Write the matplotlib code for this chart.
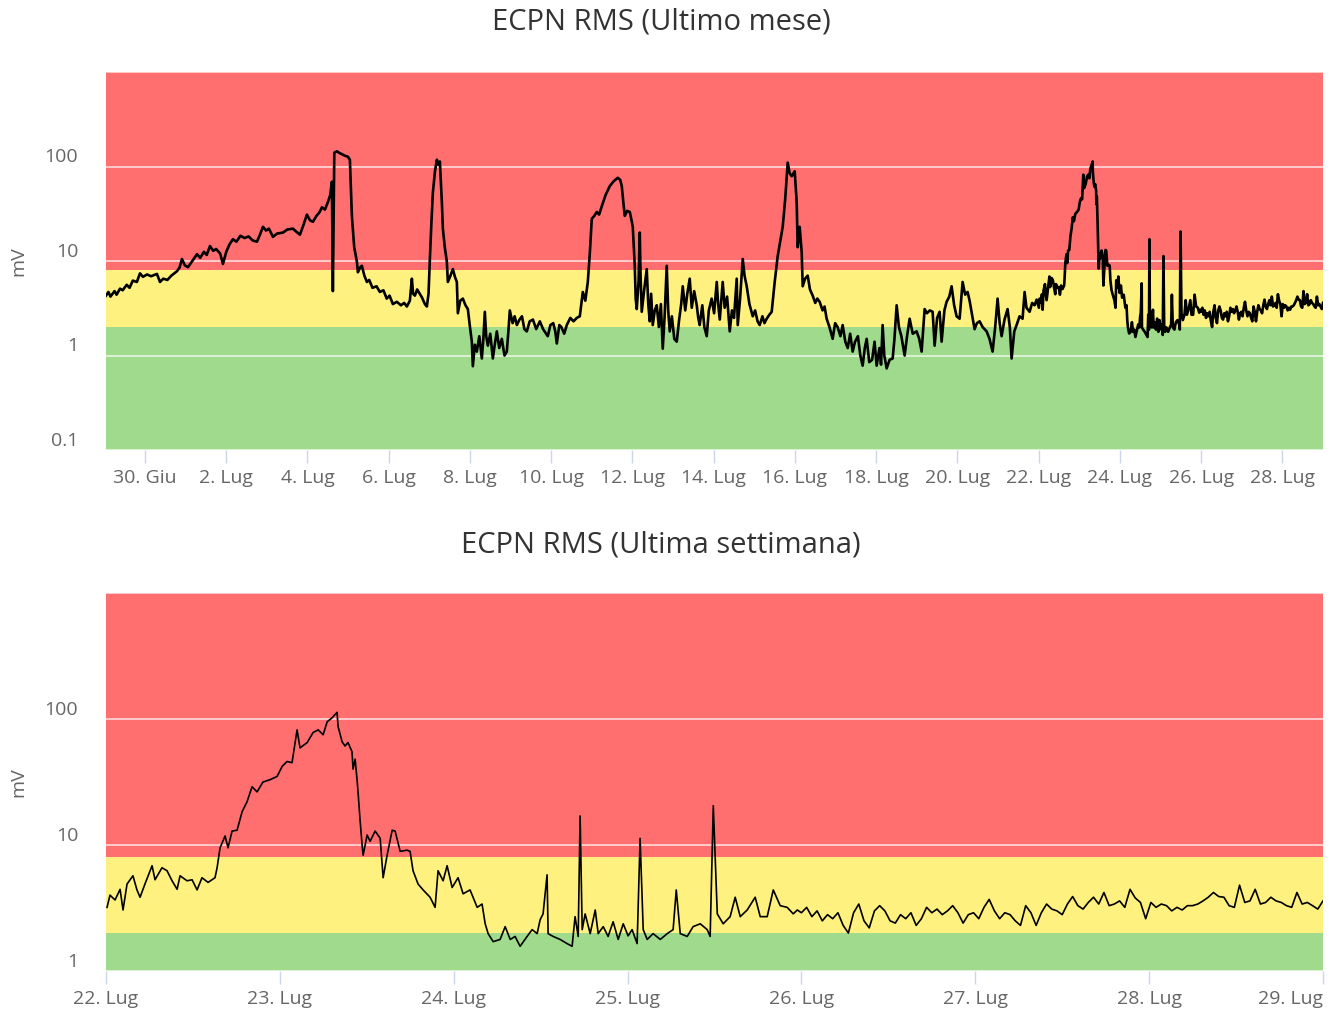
import matplotlib
matplotlib.use("Agg")
import matplotlib.pyplot as plt
from matplotlib.transforms import ScaledTranslation
import numpy as np

# ---------------- DATA ----------------
# time in "day of July" (0 = 30 Giu, 1 = 1 Lug, ...), values in mV
month_days = [
    -0.96, -0.9, -0.85, -0.75, -0.7, -0.615, -0.55, -0.45, -0.38, -0.3,
    -0.2, -0.123, -0.05, 0.05, 0.15, 0.295, 0.369, 0.45, 0.55, 0.65,
    0.787, 0.85, 0.91, 0.98, 1.058, 1.15, 1.28, 1.36, 1.45, 1.52,
    1.599, 1.68, 1.75, 1.85, 1.919, 2.0, 2.08, 2.165, 2.25, 2.35,
    2.45, 2.55, 2.65, 2.756, 2.83, 2.904, 2.98, 3.05, 3.15, 3.25,
    3.4, 3.5, 3.642, 3.72, 3.814, 3.9, 3.986, 4.06, 4.134, 4.22,
    4.3, 4.355, 4.43, 4.503, 4.56, 4.601, 4.625, 4.66, 4.724, 4.8,
    4.85, 4.92, 4.995, 5.044, 5.093, 5.15, 5.217, 5.241, 5.3, 5.339,
    5.4, 5.463, 5.52, 5.6, 5.7, 5.782, 5.87, 5.95, 6.02, 6.102,
    6.2, 6.3, 6.38, 6.447, 6.52, 6.57, 6.6, 6.644, 6.7, 6.75,
    6.82, 6.89, 6.939, 6.98, 7.013, 7.05, 7.087, 7.14, 7.185, 7.22,
    7.259, 7.308, 7.333, 7.38, 7.431, 7.456, 7.52, 7.579, 7.63, 7.677,
    7.702, 7.76, 7.825, 7.89, 7.948, 8.0, 8.046, 8.071, 8.12, 8.169,
    8.23, 8.292, 8.33, 8.366, 8.4, 8.44, 8.5, 8.563, 8.61, 8.661,
    8.72, 8.784, 8.85, 8.907, 8.95, 8.981, 9.05, 9.1, 9.154, 9.22,
    9.28, 9.34, 9.4, 9.47, 9.55, 9.63, 9.72, 9.8, 9.916, 9.98,
    10.05, 10.1, 10.138, 10.2, 10.25, 10.32, 10.384, 10.47, 10.55, 10.63,
    10.704, 10.778, 10.84, 10.901, 10.95, 10.999, 11.06, 11.122, 11.18, 11.245,
    11.34, 11.442, 11.54, 11.639, 11.7, 11.737, 11.78, 11.811, 11.87, 11.934,
    11.97, 12.008, 12.03, 12.057, 12.08, 12.106, 12.15, 12.18, 12.2, 12.229,
    12.29, 12.352, 12.39, 12.426, 12.46, 12.5, 12.55, 12.598, 12.65, 12.7,
    12.746, 12.79, 12.844, 12.88, 12.918, 12.97, 13.03, 13.091, 13.15, 13.2,
    13.238, 13.3, 13.35, 13.41, 13.46, 13.52, 13.583, 13.62, 13.656, 13.72,
    13.77, 13.829, 13.88, 13.95, 14.01, 14.075, 14.11, 14.15, 14.222, 14.27,
    14.33, 14.395, 14.45, 14.5, 14.567, 14.592, 14.65, 14.715, 14.76, 14.813,
    14.88, 14.961, 15.02, 15.08, 15.133, 15.2, 15.25, 15.305, 15.37, 15.428,
    15.502, 15.576, 15.699, 15.76, 15.822, 15.87, 15.92, 15.994, 16.043, 16.068,
    16.117, 16.166, 16.191, 16.25, 16.314, 16.37, 16.437, 16.5, 16.55, 16.609,
    16.68, 16.73, 16.781, 16.85, 16.929, 16.99, 17.05, 17.12, 17.175, 17.24,
    17.3, 17.36, 17.421, 17.48, 17.55, 17.61, 17.667, 17.72, 17.766, 17.83,
    17.9, 17.96, 18.012, 18.08, 18.12, 18.159, 18.2, 18.258, 18.33, 18.406,
    18.45, 18.504, 18.56, 18.62, 18.701, 18.76, 18.824, 18.9, 18.996, 19.06,
    19.119, 19.193, 19.25, 19.32, 19.39, 19.439, 19.5, 19.562, 19.611, 19.68,
    19.734, 19.8, 19.857, 19.92, 19.98, 20.054, 20.128, 20.19, 20.251, 20.3,
    20.349, 20.423, 20.48, 20.546, 20.62, 20.719, 20.79, 20.866, 20.93, 20.989,
    21.04, 21.088, 21.16, 21.235, 21.29, 21.334, 21.4, 21.457, 21.53, 21.604,
    21.654, 21.7, 21.777, 21.84, 21.9, 21.95,
]
month_vals = [
    4.3, 4.7, 4.2, 4.8, 4.4, 5.1, 4.9, 5.6, 5.2, 6.2,
    6.0, 7.4, 6.8, 7.2, 6.9, 7.3, 6.0, 6.5, 6.3, 7.0,
    7.8, 8.5, 10.5, 9.0, 8.6, 9.8, 11.8, 10.8, 12.5, 11.6,
    14.4, 12.8, 13.4, 12.0, 9.3, 12.5, 15.0, 17, 16.0, 18.5,
    17.5, 18.2, 16.5, 16, 19, 23, 21, 22, 18, 19.5,
    20, 21.5, 22, 20.5, 19, 24, 31, 27, 26, 30,
    33, 37, 35, 42, 50, 69, 4.8, 140, 145, 138,
    135, 130, 127, 118, 30, 14, 9.8, 7.6, 8.6, 8.9,
    7.0, 6.0, 6.3, 5.2, 5.4, 4.7, 4.9, 4.0, 4.3, 3.5,
    3.7, 3.4, 3.6, 3.3, 3.8, 6.5, 4.5, 4.3, 5.0, 4.6,
    4.1, 3.5, 3.3, 4.5, 10.5, 25, 53, 90, 118, 105,
    113, 42, 22, 14, 9.8, 6.0, 7.0, 8.2, 6.8, 6.0,
    2.8, 3.8, 4.0, 3.4, 3.1, 2.0, 1.4, 0.77, 1.3, 1.1,
    1.6, 0.93, 1.5, 2.9, 1.6, 1.27, 1.7, 0.93, 1.3, 1.8,
    1.2, 1.5, 1.0, 1.1, 1.9, 3.0, 2.2, 2.6, 2.1, 2.4,
    2.6, 1.9, 1.8, 2.3, 2.4, 1.9, 2.3, 1.9, 1.6, 2.1,
    2.2, 1.8, 1.34, 2.1, 2.0, 1.7, 2.1, 2.5, 2.3, 2.5,
    2.6, 4.7, 3.8, 6.0, 12, 28, 30, 33, 31, 38,
    50, 62, 70, 76, 72, 62, 40, 30, 34, 33,
    28, 23, 15, 8.9, 4.0, 3.1, 6, 20, 7, 2.9,
    5.0, 8.2, 3.5, 2.3, 4.5, 2.1, 3.0, 3.4, 2.0, 3.5,
    1.18, 2.5, 8.9, 3.0, 1.8, 2.6, 1.5, 1.4, 2.4, 3.5,
    5.4, 3.0, 4.5, 6.5, 3.2, 4.8, 3.4, 2.5, 2.1, 3.4,
    2.0, 1.6, 3.0, 4.0, 2.8, 6.0, 3.5, 2.4, 6.0, 3.2,
    4.2, 1.8, 3.0, 2.5, 6.5, 2.1, 4.0, 10.5, 7.0, 5.4,
    3.5, 2.6, 3.0, 2.3, 2.1, 2.6, 2.2, 2.45, 2.7, 2.9,
    6, 11.3, 23, 45, 110, 85, 79, 89, 42, 14,
    23, 12.4, 5.4, 6.5, 7, 5.0, 4.3, 3.6, 4.0, 3.7,
    3.0, 3.3, 2.45, 2.0, 1.5, 2.2, 2.0, 1.6, 2.1, 1.4,
    1.2, 1.7, 1.1, 1.4, 1.6, 1.0, 0.78, 1.2, 1.5, 0.85,
    0.9, 1.4, 0.78, 1.2, 0.8, 2.1, 1.0, 0.73, 0.9, 0.93,
    1.5, 3.4, 2.0, 1.6, 1.0, 1.6, 2.45, 1.7, 1.8, 1.5,
    1.1, 3.1, 2.8, 3.0, 2.9, 1.27, 2.5, 2.9, 1.4, 3.0,
    3.7, 4.2, 5.4, 3.4, 2.6, 2.45, 6, 4.4, 4.7, 3.8,
    2.9, 1.9, 2.2, 2.3, 2.0, 1.8, 1.5, 1.1, 2.0, 4.0,
    2.2, 1.6, 2.4, 3.1, 2.0, 0.93, 1.8, 2.1, 2.6, 2.45,
    4.7, 3.2, 2.9, 3.6, 3.4, 3.9,
]

week_days = [
    22.006, 22.023, 22.052, 22.081, 22.098, 22.121, 22.155, 22.178, 22.196, 22.224,
    22.265, 22.282, 22.322, 22.351, 22.38, 22.409, 22.426, 22.466, 22.495, 22.524,
    22.552, 22.587, 22.627, 22.639, 22.656, 22.685, 22.702, 22.725, 22.754, 22.783,
    22.811, 22.84, 22.869, 22.903, 22.944, 22.984, 23.013, 23.041, 23.07, 23.099,
    23.116, 23.157, 23.191, 23.22, 23.249, 23.272, 23.3, 23.329, 23.335, 23.358,
    23.375, 23.392, 23.415, 23.421, 23.433, 23.444, 23.45, 23.461, 23.473, 23.479,
    23.502, 23.519, 23.548, 23.577, 23.594, 23.617, 23.646, 23.663, 23.692, 23.732,
    23.749, 23.766, 23.795, 23.824, 23.864, 23.893, 23.91, 23.939, 23.962, 23.991,
    24.025, 24.054, 24.094, 24.135, 24.163, 24.181, 24.198, 24.227, 24.267, 24.296,
    24.325, 24.353, 24.382, 24.422, 24.451, 24.48, 24.497, 24.514, 24.537, 24.543,
    24.572, 24.612, 24.652, 24.681, 24.698, 24.716, 24.727, 24.739, 24.756, 24.785,
    24.814, 24.831, 24.86, 24.888, 24.917, 24.946, 24.975, 25.003, 25.026, 25.055,
    25.072, 25.09, 25.113, 25.147, 25.188, 25.228, 25.262, 25.28, 25.303, 25.343,
    25.377, 25.418, 25.458, 25.475, 25.493, 25.516, 25.55, 25.59, 25.619, 25.648,
    25.688, 25.734, 25.763, 25.803, 25.838, 25.878, 25.918, 25.953, 25.976,
    26.00, 26.03, 26.06, 26.09, 26.12, 26.15, 26.18, 26.21, 26.24, 26.27,
    26.30, 26.33, 26.36, 26.39, 26.42, 26.45, 26.48, 26.51, 26.54, 26.57,
    26.60, 26.63, 26.66, 26.69, 26.72, 26.75, 26.78, 26.81, 26.84, 26.87,
    26.90, 26.93, 26.96, 26.99, 27.02, 27.05, 27.08, 27.11, 27.14, 27.17,
    27.20, 27.23, 27.26, 27.29, 27.32, 27.35, 27.38, 27.41, 27.44, 27.47,
    27.50, 27.53, 27.56, 27.59, 27.62, 27.65, 27.68, 27.71, 27.74, 27.77,
    27.80, 27.83, 27.86, 27.89, 27.92, 27.95, 27.98, 28.01, 28.04, 28.07,
    28.10, 28.13, 28.16, 28.19, 28.22, 28.25, 28.28, 28.31, 28.34, 28.37,
    28.40, 28.43, 28.46, 28.49, 28.52, 28.55, 28.58, 28.61, 28.64, 28.67,
    28.70, 28.73, 28.76, 28.79, 28.82, 28.85, 28.88, 28.91, 28.94, 28.97,
    29.0,
]
week_vals = [
    3.2, 4.0, 3.66, 4.45, 3.05, 4.9, 5.7, 4.4, 3.85, 4.9,
    6.85, 5.3, 6.6, 6.25, 5.2, 4.45, 5.7, 5.2, 5.3, 4.4,
    5.5, 5.05, 5.5, 6.6, 9.5, 11.8, 9.5, 12.9, 13.1, 18.4,
    22, 29, 26.4, 31.6, 33, 35, 42, 46, 45, 82,
    59, 65, 78, 82, 75, 95, 102, 113, 87, 66,
    61, 65, 55, 40, 48, 33, 26, 16, 10, 8.3,
    12, 10.7, 12.9, 11.3, 5.5, 8.3, 13.1, 12.9, 8.9, 9.1,
    8.9, 6.25, 4.9, 4.4, 3.85, 3.2, 6.25, 5.2, 6.85, 4.6,
    5.5, 4.1, 4.4, 3.2, 3.4, 2.37, 1.98, 1.71, 1.78, 2.25,
    1.78, 1.88, 1.57, 1.88, 2.13, 1.98, 2.55, 2.84, 5.8, 1.98,
    1.88, 1.78, 1.65, 1.57, 2.7, 1.88, 17, 2.13, 2.84, 1.98,
    3.05, 1.98, 2.25, 1.88, 2.46, 1.78, 2.37, 1.9, 2.13, 1.65,
    11.3, 2.13, 1.78, 1.98, 1.78, 1.98, 2.13, 4.4, 1.98, 1.88,
    2.25, 2.37, 2.13, 1.88, 20.5, 2.84, 2.37, 2.7, 3.85, 2.7,
    3.05, 3.85, 2.7, 2.7, 4.4, 3.3, 3.2, 2.84, 3.05,
    2.9, 3.2, 2.7, 3.0, 2.5, 2.8, 2.6, 2.9, 2.3, 2.0,
    2.9, 3.4, 2.5, 2.2, 3.0, 3.3, 3.0, 2.5, 2.4, 2.8,
    2.6, 2.9, 2.3, 2.6, 3.2, 2.9, 3.1, 2.8, 3.0, 3.3,
    2.9, 2.4, 2.8, 2.9, 2.6, 3.2, 3.7, 3.0, 2.6, 2.9,
    2.8, 2.5, 2.3, 3.3, 2.9, 2.3, 2.9, 3.4, 3.1, 3.0,
    2.8, 3.4, 3.9, 3.3, 3.1, 3.5, 3.85, 3.4, 4.2, 3.3,
    3.4, 3.6, 3.2, 4.45, 3.8, 3.5, 2.6, 3.5, 3.2, 3.4,
    3.3, 3.0, 3.2, 3.05, 3.3, 3.3, 3.4, 3.6, 3.85, 4.2,
    3.9, 3.85, 3.3, 3.2, 4.8, 3.5, 3.6, 4.45, 3.4, 3.5,
    3.85, 3.6, 3.5, 3.3, 3.2, 4.2, 3.4, 3.5, 3.3, 3.1,
    3.6,
]

month_ticks = list(range(0, 29, 2))
month_ticklabels = ["30. Giu"] + [f"{d}. Lug" for d in range(2, 29, 2)]
week_ticks = list(range(22, 30))
week_ticklabels = [f"{d}. Lug" for d in range(22, 30)]

titles = ["ECPN RMS (Ultimo mese)", "ECPN RMS (Ultima settimana)"]
band_limits = [2, 8]   # green < 2 <= yellow < 8 <= red

# ---------------- STYLE ----------------
plt.rcParams['font.family'] = ['Open Sans', 'DejaVu Sans']
RED = "#FF6F6F"
YELLOW = "#FFF180"
GREEN = "#A0DA8C"
W, H = 1334, 1012
fig = plt.figure(figsize=(W / 100, H / 100), dpi=100)

def px_axes(x0, y0, x1, y1):
    return fig.add_axes([x0 / W, 1 - y1 / H, (x1 - x0) / W, (y1 - y0) / H])

ax1 = px_axes(106, 73, 1323, 451)
ax2 = px_axes(106, 594, 1323, 972)

month_x = np.array(month_days + week_days)
month_y = np.array(month_vals + week_vals)

def style(ax, ymin, ymax, yticks, ylabels, xticks, xlabels, xlim):
    ax.set_yscale('log')
    ax.set_ylim(ymin, ymax)
    ax.set_xlim(*xlim)
    ax.axhspan(ymin, band_limits[0], color=GREEN, lw=0, zorder=0)
    ax.axhspan(band_limits[0], band_limits[1], color=YELLOW, lw=0, zorder=0)
    ax.axhspan(band_limits[1], ymax, color=RED, lw=0, zorder=0)
    ax.set_yticks(yticks)
    ax.set_yticklabels(ylabels)
    ax.yaxis.set_minor_locator(matplotlib.ticker.NullLocator())
    ax.grid(axis='y', color='white', alpha=0.75, lw=1.2, zorder=1)
    ax.set_axisbelow(False)
    ax.set_xticks(xticks)
    ax.set_xticklabels(xlabels)
    for s in ax.spines.values():
        s.set_visible(False)
    ax.tick_params(axis='y', length=0, pad=20, labelsize=14, labelcolor='#666666')
    ax.tick_params(axis='x', length=9, width=1, color='#ccd6eb', pad=4,
                   labelsize=14, labelcolor='#666666')
    off = ScaledTranslation(0, 10 / 100, fig.dpi_scale_trans)
    for lab in ax.get_yticklabels():
        lab.set_transform(lab.get_transform() + off)
        lab.set_verticalalignment('center')

style(ax1, 0.1, 1000, [0.1, 1, 10, 100, 1000], ["0.1", "1", "10", "100", ""],
      month_ticks, month_ticklabels, (-0.96, 29.0))
style(ax2, 1, 1000, [1, 10, 100, 1000], ["1", "10", "100", ""],
      week_ticks, week_ticklabels, (22, 29))

ax1.plot(month_x, month_y, color='black', lw=1.9, zorder=3)
ax2.plot(week_days, week_vals, color='black', lw=1.2, zorder=3)

ax2.get_xticklabels()[-1].set_horizontalalignment('right')

fig.text(661 / W, 1 - 22 / H, titles[0], ha='center', va='center', fontsize=21, color='#333333')
fig.text(661 / W, 1 - 545 / H, titles[1], ha='center', va='center', fontsize=21, color='#333333')
fig.text(18 / W, 1 - 261 / H, "mV", rotation=90, ha='center', va='center', fontsize=14, color='#666666')
fig.text(18 / W, 1 - 782 / H, "mV", rotation=90, ha='center', va='center', fontsize=14, color='#666666')

fig.savefig("out.png", dpi=100)
